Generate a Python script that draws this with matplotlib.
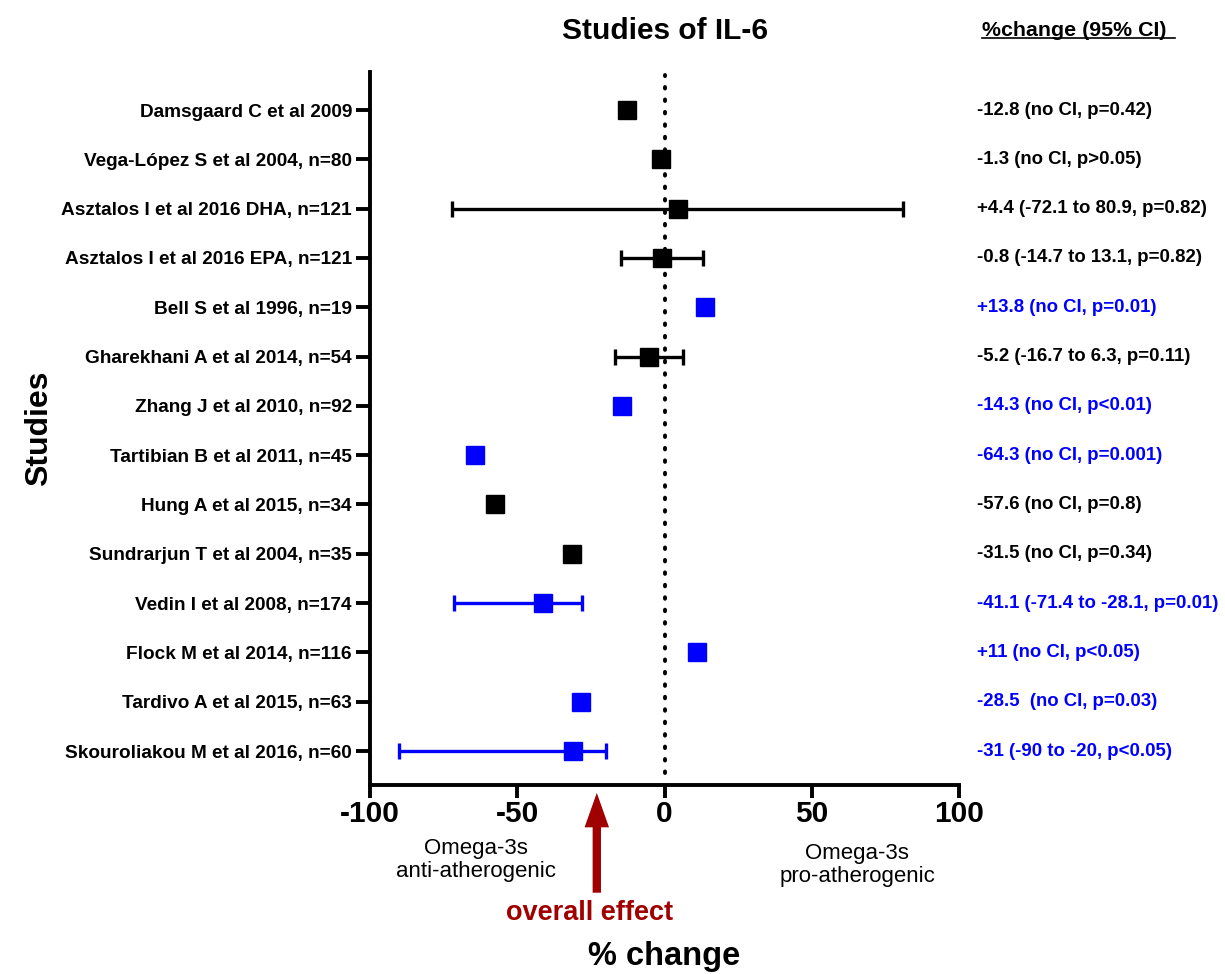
import numpy as np
import matplotlib.pyplot as plt
from matplotlib.lines import Line2D
from matplotlib import transforms

plt.rcParams['font.family'] = ['Liberation Sans', 'DejaVu Sans']

# --- study data (top to bottom) ---
studies = [
    "Damsgaard C et al 2009",
    "Vega-López S et al 2004, n=80",
    "Asztalos I et al 2016 DHA, n=121",
    "Asztalos I et al 2016 EPA, n=121",
    "Bell S et al 1996, n=19",
    "Gharekhani A et al 2014, n=54",
    "Zhang J et al 2010, n=92",
    "Tartibian B et al 2011, n=45",
    "Hung A et al 2015, n=34",
    "Sundrarjun T et al 2004, n=35",
    "Vedin I et al 2008, n=174",
    "Flock M et al 2014, n=116",
    "Tardivo A et al 2015, n=63",
    "Skouroliakou M et al 2016, n=60",
]
pct_change = [-12.8, -1.3, 4.4, -0.8, 13.8, -5.2, -14.3, -64.3, -57.6, -31.5, -41.1, 11, -28.5, -31]
ci_low = [None, None, -72.1, -14.7, None, -16.7, None, None, None, None, -71.4, None, None, -90]
ci_high = [None, None, 80.9, 13.1, None, 6.3, None, None, None, None, -28.1, None, None, -20]
significant = [False, False, False, False, True, False, True, True, False, False, True, True, True, True]
ci_text = [
    "-12.8 (no CI, p=0.42)",
    "-1.3 (no CI, p>0.05)",
    "+4.4 (-72.1 to 80.9, p=0.82)",
    "-0.8 (-14.7 to 13.1, p=0.82)",
    "+13.8 (no CI, p=0.01)",
    "-5.2 (-16.7 to 6.3, p=0.11)",
    "-14.3 (no CI, p<0.01)",
    "-64.3 (no CI, p=0.001)",
    "-57.6 (no CI, p=0.8)",
    "-31.5 (no CI, p=0.34)",
    "-41.1 (-71.4 to -28.1, p=0.01)",
    "+11 (no CI, p<0.05)",
    "-28.5  (no CI, p=0.03)",
    "-31 (-90 to -20, p<0.05)",
]
overall_effect = -23

n = len(studies)
ypos = np.arange(n)[::-1]

fig = plt.figure(figsize=(12.25, 9.74), dpi=100)
ax = fig.add_axes([0.302, 0.194, 0.481, 0.732])
row_tf = transforms.blended_transform_factory(ax.transAxes, ax.transData)
below_tf = transforms.blended_transform_factory(ax.transData, ax.transAxes)

# zero line
ax.plot([0, 0], [-0.45, n - 0.28], color='black', lw=2.8, linestyle=(0, (0.4, 2.8)),
        dash_capstyle='round', zorder=1)

for i in range(n):
    col = '#0000ff' if significant[i] else 'black'
    if ci_low[i] is not None:
        xerr = [[pct_change[i] - ci_low[i]], [ci_high[i] - pct_change[i]]]
        ax.errorbar(pct_change[i], ypos[i], xerr=xerr, fmt='none', ecolor=col,
                    elinewidth=2.4, capsize=6, capthick=2.4, zorder=2)
    ax.plot(pct_change[i], ypos[i], marker='s', markersize=12.5, color=col,
            linestyle='none', zorder=3)
    ax.text(1.031, ypos[i], ci_text[i], transform=row_tf,
            ha='left', va='center', fontsize=13.4, fontweight='bold', color=col)

ax.set_xlim(-100, 100)
ax.set_ylim(-0.69, n - 0.23)
ax.set_xticks([-100, -50, 0, 50, 100])
ax.set_xticklabels(['-100', '-50', '0', '50', '100'], fontsize=21.5, fontweight='bold')
ax.set_yticks(ypos)
ax.set_yticklabels(studies, fontsize=13.7, fontweight='bold')
ax.tick_params(axis='y', length=10, width=2.8, pad=3)
ax.tick_params(axis='x', length=9, width=2.8, pad=2)

for side in ['top', 'right']:
    ax.spines[side].set_visible(False)
for side in ['left', 'bottom']:
    ax.spines[side].set_linewidth(2.8)

ax.set_xlabel('% change', fontsize=23.5, fontweight='bold', labelpad=81)
ax.set_ylabel('Studies', fontsize=23, fontweight='bold', labelpad=5)
ax.set_title('Studies of IL-6', fontsize=21.5, fontweight='bold', pad=24)

# column header, underlined
fig.text(0.8016, 0.969, '%change (95% CI)', fontsize=15.4, fontweight='bold', ha='left', va='center')
fig.add_artist(Line2D([0.8016, 0.959], [0.961, 0.961], color='black', lw=1.2))

# direction notes under the axis
ax.text(-64, -0.105, 'Omega-3s\nanti-atherogenic', transform=below_tf,
        ha='center', va='center', fontsize=16, linespacing=1.15)
ax.text(65.4, -0.112, 'Omega-3s\npro-atherogenic', transform=below_tf,
        ha='center', va='center', fontsize=16, linespacing=1.15)

# overall effect arrow
ax.annotate('', xy=(overall_effect, -0.011), xytext=(overall_effect, -0.151),
            xycoords=below_tf, textcoords=below_tf,
            arrowprops=dict(arrowstyle='simple,head_length=1.24,head_width=0.88,tail_width=0.3',
                            mutation_scale=20, color='#a00000', lw=0, shrinkA=0, shrinkB=0))
ax.text(overall_effect - 2.5, -0.179, 'overall effect', transform=below_tf,
        ha='center', va='center', fontsize=19.5, fontweight='bold', color='#a00000')

fig.savefig('out.png', dpi=100)
